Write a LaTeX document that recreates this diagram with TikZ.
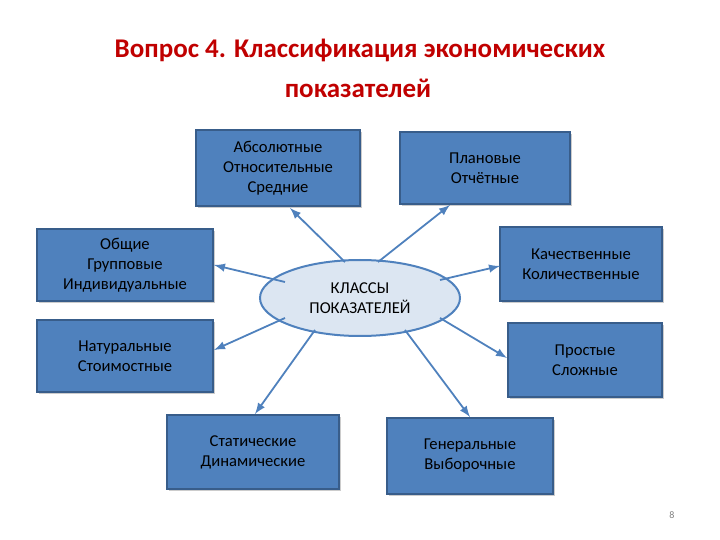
\documentclass[tikz,border=0pt]{standalone}
\usepackage{fontspec}
\setmainfont{Carlito}
\usetikzlibrary{shadows,shapes.geometric}
\definecolor{boxfill}{HTML}{4F81BD}
\definecolor{boxline}{HTML}{385D8A}
\definecolor{ellfill}{HTML}{DCE6F2}
\definecolor{titlered}{HTML}{C00000}
\begin{document}
\begin{tikzpicture}[x=0.5pt,y=-0.5pt,
 cls/.style={draw=boxline,line width=0.8pt,fill=boxfill,font=\fontsize{8.3}{10}\selectfont,align=center,inner sep=0pt,drop shadow={shadow xshift=1pt,shadow yshift=-1pt,opacity=0.4}},
 arr/.style={-latex,draw=boxfill,line width=0.9pt}]
\useasboundingbox (0,0) rectangle (720,540);
\node[font=\fontsize{13.5}{16}\selectfont\bfseries,text=titlered] (t1) at (360,50) {Вопрос 4. Классификация экономических};
\node[font=\fontsize{13.5}{16}\selectfont\bfseries,text=titlered] (t2) at (358,88) {показателей};
\node[ellipse,draw=boxfill,line width=1pt,fill=ellfill,minimum width=100pt,minimum height=38pt,font=\fontsize{8.3}{10}\selectfont,align=center,inner sep=0pt] (c) at (360,298) {КЛАССЫ\\ПОКАЗАТЕЛЕЙ};
\node[cls,minimum width=82pt,minimum height=38pt] (b1) at (278,168) {Абсолютные\\Относительные\\Средние};
\node[cls,minimum width=85pt,minimum height=36pt] (b2) at (485,168) {Плановые\\Отчётные};
\node[cls,minimum width=88pt,minimum height=36pt] (b3) at (125,265) {Общие\\Групповые\\Индивидуальные};
\node[cls,minimum width=81pt,minimum height=37pt] (b4) at (581,264) {Качественные\\Количественные};
\node[cls,minimum width=88pt,minimum height=36pt] (b5) at (125,356) {Натуральные\\Стоимостные};
\node[cls,minimum width=77pt,minimum height=37pt] (b6) at (585,360) {Простые\\Сложные};
\node[cls,minimum width=86pt,minimum height=37pt] (b7) at (253,452) {Статические\\Динамические};
\node[cls,minimum width=83pt,minimum height=38pt] (b8) at (470,456) {Генеральные\\Выборочные};
\node[font=\fontsize{5}{6}\selectfont,text=gray] (pg) at (672,515) {8};
\coordinate (c1) at (345,262);
\coordinate (c2) at (378,262);
\coordinate (c3) at (285,282);
\coordinate (c4) at (440,280);
\coordinate (c5) at (285,318);
\coordinate (c6) at (440,318);
\coordinate (c7) at (315,330);
\coordinate (c8) at (405,330);
\draw[arr] (c1) -- (290,208);
\draw[arr] (c2) -- (450,205);
\draw[arr] (c3) -- (214,265);
\draw[arr] (c4) -- (500,266);
\draw[arr] (c5) -- (214,350);
\draw[arr] (c6) -- (507,358);
\draw[arr] (c7) -- (255,414);
\draw[arr] (c8) -- (470,417);
\end{tikzpicture}
\end{document}
